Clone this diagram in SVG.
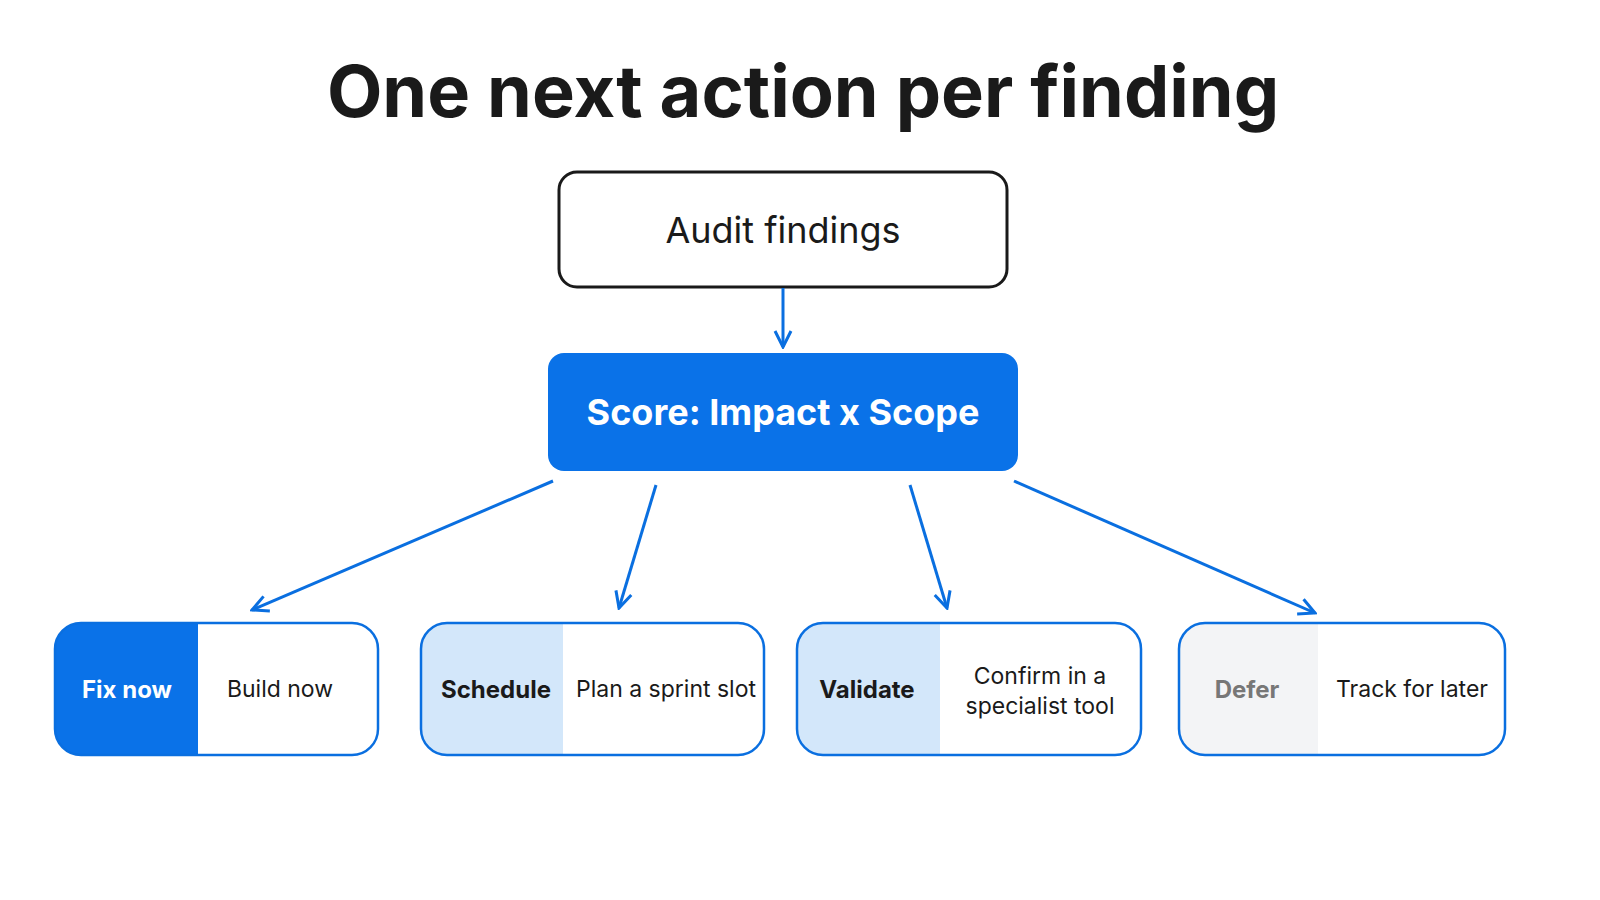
<svg xmlns="http://www.w3.org/2000/svg" width="1600" height="900" viewBox="0 0 1600 900">
<style>
text{font-family:Inter,"Liberation Sans",sans-serif;text-anchor:middle;dominant-baseline:central}
.c{fill:none;stroke:#0A6FE0;stroke-width:3}
.o{fill:none;stroke:#0A6FE0;stroke-width:2.5}
.l{font-size:24px;font-weight:700}
.r{font-size:23px;fill:#1a1a1a}
</style>
<defs>
<marker id="a" viewBox="0 0 20 20" refX="18" refY="10" markerWidth="20" markerHeight="20" markerUnits="userSpaceOnUse" orient="auto"><path d="M2,2 L18,10 L2,18" fill="none" stroke="#0A6FE0" stroke-width="3"/></marker>
<clipPath id="k1"><rect x="55" y="623" width="323" height="132" rx="26"/></clipPath>
<clipPath id="k2"><rect x="421" y="623" width="343" height="132" rx="26"/></clipPath>
<clipPath id="k3"><rect x="797" y="623" width="344" height="132" rx="26"/></clipPath>
<clipPath id="k4"><rect x="1179" y="623" width="326" height="132" rx="26"/></clipPath>
</defs>
<rect width="1600" height="900" fill="#fff"/>
<text x="803" y="90" font-size="72" font-weight="700" fill="#1a1a1a">One next action per finding</text>
<g id="audit"><rect x="559" y="172" width="448" height="115" rx="18" fill="#fff" stroke="#1a1a1a" stroke-width="3"/><text x="783" y="230" font-size="36" fill="#1a1a1a">Audit findings</text></g>
<g id="score"><rect x="548" y="353" width="470" height="118" rx="16" fill="#0A72E8"/><text x="783" y="412" font-size="36" font-weight="700" fill="#fff">Score: Impact x Scope</text></g>
<g id="fix"><rect x="55" y="623" width="143" height="132" clip-path="url(#k1)" fill="#0A72E8"/><rect x="55" y="623" width="323" height="132" rx="26" class="o"/><text x="127" y="689" class="l" fill="#fff">Fix now</text><text x="280" y="689" class="r">Build now</text></g>
<g id="schedule"><rect x="421" y="623" width="142" height="132" clip-path="url(#k2)" fill="#D3E7FA"/><rect x="421" y="623" width="343" height="132" rx="26" class="o"/><text x="496" y="689" class="l" fill="#1a1a1a">Schedule</text><text x="666" y="689" class="r">Plan a sprint slot</text></g>
<g id="validate"><rect x="797" y="623" width="143" height="132" clip-path="url(#k3)" fill="#D3E7FA"/><rect x="797" y="623" width="344" height="132" rx="26" class="o"/><text x="867" y="689" class="l" fill="#1a1a1a">Validate</text><text x="1040" y="676" class="r">Confirm in a</text><text x="1040" y="706" class="r">specialist tool</text></g>
<g id="defer"><rect x="1179" y="623" width="139" height="132" clip-path="url(#k4)" fill="#F3F4F6"/><rect x="1179" y="623" width="326" height="132" rx="26" class="o"/><text x="1247" y="689" class="l" fill="#777">Defer</text><text x="1412" y="689" class="r">Track for later</text></g>
<g id="connectors">
<line x1="783" y1="288" x2="783" y2="347" class="c" marker-end="url(#a)"/>
<line x1="553" y1="481" x2="252" y2="610" class="c" marker-end="url(#a)"/>
<line x1="656" y1="485" x2="619" y2="608" class="c" marker-end="url(#a)"/>
<line x1="910" y1="485" x2="947" y2="608" class="c" marker-end="url(#a)"/>
<line x1="1014" y1="481" x2="1315" y2="613" class="c" marker-end="url(#a)"/>
</g>
</svg>
